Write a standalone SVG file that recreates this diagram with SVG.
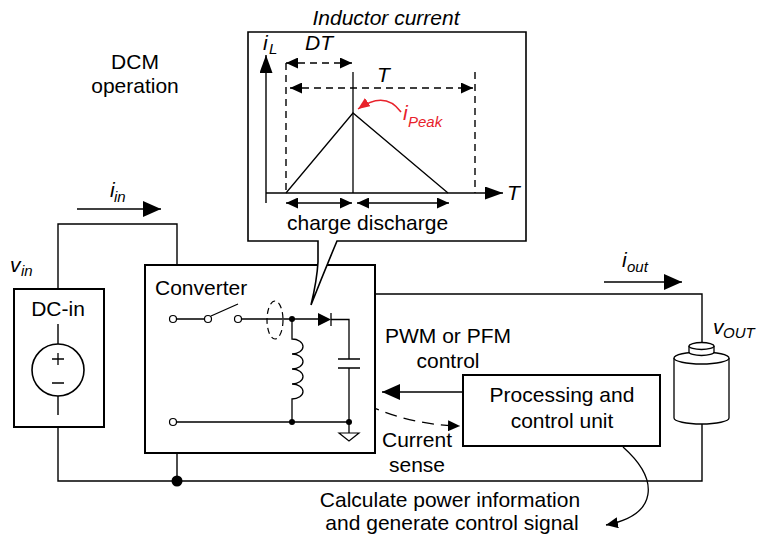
<svg xmlns="http://www.w3.org/2000/svg" width="761" height="545" viewBox="0 0 761 545">
  <defs>
    <style>
      text { font-family: "Liberation Sans", Arial, sans-serif; font-size: 21px; fill: #000; }
      .it { font-style: italic; }
      .sub { font-size: 15px; font-style: italic; }
      .mid { text-anchor: middle; }
      .red { fill: #e8222b; }
      .wire { fill: none; stroke: #000; stroke-width: 1.4; }
      .box { fill: #fff; stroke: #000; stroke-width: 2; }
      .thin { fill: none; stroke: #000; stroke-width: 1.3; }
      .dash { fill: none; stroke: #000; stroke-width: 1.4; stroke-dasharray: 7 5; }
      .dashlong { fill: none; stroke: #000; stroke-width: 1.3; stroke-dasharray: 12 7; }
      .term { fill: #fff; stroke: #000; stroke-width: 1.2; }
    </style>
    <marker id="ahBig" markerUnits="userSpaceOnUse" markerWidth="18" markerHeight="16" refX="18" refY="8" orient="auto-start-reverse">
      <path d="M0,0 L18,8 L0,16 Z" fill="#000"/>
    </marker>
    <marker id="ahAxis" markerUnits="userSpaceOnUse" markerWidth="18" markerHeight="13" refX="18" refY="6.5" orient="auto">
      <path d="M0,0 L18,6.5 L0,13 Z" fill="#000"/>
    </marker>
    <marker id="ahSmall" markerUnits="userSpaceOnUse" markerWidth="12" markerHeight="11" refX="12" refY="5.5" orient="auto-start-reverse">
      <path d="M0,0 L12,5.5 L0,11 Z" fill="#000"/>
    </marker>
    <marker id="ahRed" markerUnits="userSpaceOnUse" markerWidth="12" markerHeight="10" refX="12" refY="5" orient="auto">
      <path d="M0,0 L12,5 L0,10 Z" fill="#e8222b"/>
    </marker>
  </defs>

  <rect width="761" height="545" fill="#fff"/>

  <!-- Circuit wiring -->
  <g id="connectors">
    <!-- DC source to converter, top -->
    <path class="wire" d="M58,289 V224 H177 V265"/>
    <!-- common return line -->
    <path class="wire" d="M58,427 V481 H702 V424"/>
    <path class="wire" d="M177,453 V481"/>
    <circle cx="177" cy="481" r="5.5" fill="#000"/>
    <!-- converter output to load -->
    <path class="wire" d="M375,294 H702 V342"/>
    <!-- input / output current arrows -->
    <line class="wire" x1="77" y1="209" x2="161" y2="209" marker-end="url(#ahBig)"/>
    <line class="wire" x1="604" y1="282" x2="682" y2="282" marker-end="url(#ahBig)"/>
    <!-- PWM / PFM control -->
    <line class="wire" x1="463" y1="392" x2="382" y2="392" marker-end="url(#ahBig)"/>
    <!-- current sense path -->
    <path class="dashlong" d="M275,340 Q360,424 460,426" marker-end="url(#ahSmall)"/>
    <!-- output of processing unit -->
    <path class="thin" d="M623,447 C660,480 658,515 606,525" marker-end="url(#ahSmall)"/>
  </g>

  <!-- DC input source -->
  <g id="dc-in">
    <rect class="box" x="14" y="289" width="90" height="138"/>
    <text class="mid" x="58" y="316">DC-in</text>
    <path class="wire" d="M58,324 V344 M58,396 V415"/>
    <circle cx="58" cy="370" r="26" fill="none" stroke="#000" stroke-width="1.6"/>
    <path class="thin" d="M52,359 H64 M58,353 V365 M52,383 H64"/>
  </g>

  <!-- Converter -->
  <g id="converter">
    <rect class="box" x="145" y="265" width="230" height="188"/>
    <text x="155" y="295">Converter</text>
    <!-- switch -->
    <path class="thin" d="M176.5,319 H204.5 M211,316 L238,304 M241.5,319 H318 M331,319.5 H349 V359 M349,368 V433 M176.5,422 H349"/>
    <circle class="term" cx="173" cy="319" r="3.5"/>
    <circle class="term" cx="208" cy="319" r="3.5"/>
    <circle class="term" cx="238" cy="319" r="3.5"/>
    <circle class="term" cx="173" cy="422" r="3.5"/>
    <!-- diode -->
    <path d="M318,313 L331,319.5 L318,326 Z" fill="#000"/>
    <line class="thin" x1="331" y1="313" x2="331" y2="326"/>
    <!-- inductor -->
    <path class="thin" d="M292,319 V339 A11,7.5 0 0 1 292,354 A11,7.5 0 0 1 292,369 A11,7.5 0 0 1 292,384 A11,7.5 0 0 1 292,399 V422"/>
    <!-- capacitor -->
    <path class="thin" d="M338,359 H360 M338,368 H360" stroke-width="1.8"/>
    <!-- ground -->
    <path class="term" d="M339,433 H359 L349,441 Z"/>
    <circle cx="292" cy="319" r="3" fill="#000"/>
    <circle cx="292" cy="422" r="3" fill="#000"/>
    <circle cx="349" cy="422" r="3" fill="#000"/>
    <!-- current sense probe -->
    <ellipse cx="275" cy="320" rx="8" ry="19" fill="none" stroke="#000" stroke-width="1.2" stroke-dasharray="6 4"/>
  </g>

  <!-- Processing and control unit -->
  <g id="processing">
    <rect class="box" x="463" y="375" width="197" height="71"/>
    <text class="mid" x="562" y="402">Processing and</text>
    <text class="mid" x="562" y="428">control unit</text>
  </g>

  <!-- Load -->
  <g id="load">
    <path d="M674,358 V418 A27.5,6 0 0 0 729,418 V358" fill="#fff" stroke="#000" stroke-width="1.3"/>
    <ellipse cx="701.5" cy="358" rx="27.5" ry="6" fill="#fff" stroke="#000" stroke-width="1.3"/>
    <path d="M689,346 V352 A12.5,3.5 0 0 0 714,352 V346" fill="#fff" stroke="#000" stroke-width="1.3"/>
    <ellipse cx="701.5" cy="346" rx="12.5" ry="3.5" fill="#fff" stroke="#000" stroke-width="1.3"/>
  </g>

  <!-- Inductor current waveform callout -->
  <g id="callout">
    <path d="M248,32 H526 V241 H337 Q324,272 311,305 Q317,280 318,262 V241 H248 Z" fill="#fff" stroke="#000" stroke-width="1.6"/>
    <!-- axes -->
    <line class="wire" x1="266" y1="203" x2="266" y2="55" marker-end="url(#ahAxis)"/>
    <line class="wire" x1="266" y1="193" x2="503" y2="193" marker-end="url(#ahAxis)"/>
    <!-- waveform -->
    <path class="thin" d="M286,193 L353,113 L448,193"/>
    <line class="thin" x1="353" y1="72" x2="353" y2="193"/>
    <line class="dash" x1="286" y1="63" x2="286" y2="193"/>
    <line class="dash" x1="475" y1="72" x2="475" y2="193"/>
    <line class="dash" x1="286" y1="63" x2="352" y2="63" marker-start="url(#ahSmall)" marker-end="url(#ahSmall)"/>
    <line class="dash" x1="290" y1="88" x2="473" y2="88" marker-start="url(#ahSmall)" marker-end="url(#ahSmall)"/>
    <line class="thin" x1="286" y1="203" x2="352" y2="203" marker-start="url(#ahSmall)" marker-end="url(#ahSmall)"/>
    <line class="thin" x1="357" y1="203" x2="449" y2="203" marker-start="url(#ahSmall)" marker-end="url(#ahSmall)"/>
    <path d="M401,112 Q385,90 358,109" fill="none" stroke="#e8222b" stroke-width="1.5" marker-end="url(#ahRed)"/>
    <text class="it" x="263" y="50">i</text><text class="sub" x="269" y="54">L</text>
    <text class="it" x="305" y="50">DT</text>
    <text class="it" x="377" y="82">T</text>
    <text class="it" x="507" y="200">T</text>
    <text class="it red" x="403" y="120">i</text><text class="sub red" x="408" y="127">Peak</text>
    <text x="287" y="230">charge discharge</text>
  </g>

  <!-- Labels -->
  <g id="labels">
    <text class="it mid" x="386" y="25">Inductor current</text>
    <text class="mid" x="135" y="69">DCM</text>
    <text class="mid" x="135" y="93">operation</text>
    <text class="it" x="110" y="197">i</text><text class="sub" x="114" y="202">in</text>
    <text class="it" x="10" y="272">v</text><text class="sub" x="21" y="276">in</text>
    <text class="it" x="622" y="267">i</text><text class="sub" x="627" y="272">out</text>
    <text class="it" x="713" y="334">v</text><text class="sub" x="723" y="338">OUT</text>
    <text class="mid" x="448" y="343">PWM or PFM</text>
    <text class="mid" x="448" y="368">control</text>
    <text class="mid" x="417" y="447">Current</text>
    <text class="mid" x="417" y="472">sense</text>
    <text class="mid" x="450" y="507">Calculate power information</text>
    <text class="mid" x="452" y="530">and generate control signal</text>
  </g>
</svg>
